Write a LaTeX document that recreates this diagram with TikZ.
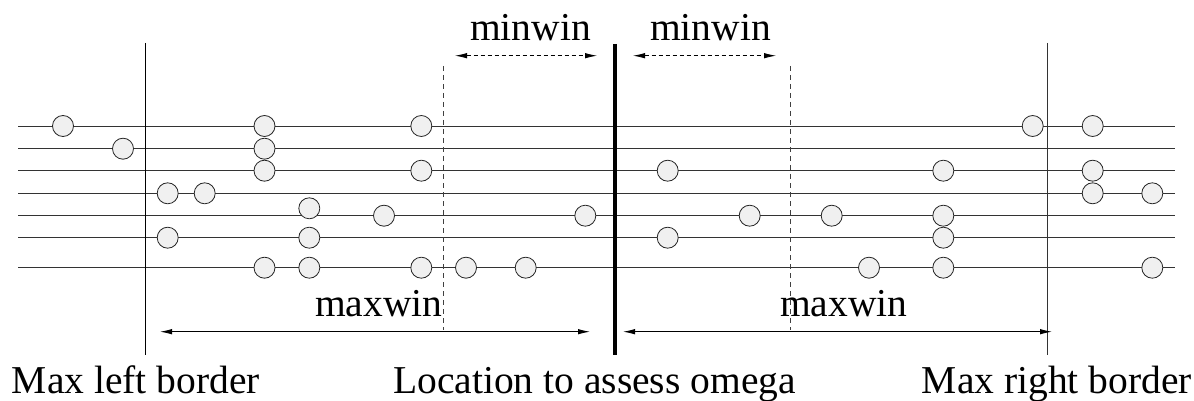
\documentclass[tikz,border=0pt]{standalone}
\usepackage{fontspec}
\setmainfont{Liberation Serif}
\usetikzlibrary{arrows.meta}
\begin{document}
\begin{tikzpicture}[x=1pt,y=-1pt,
  dot/.style={circle,draw=black!85,fill=black!6,line width=0.8pt,minimum size=21pt,inner sep=0pt},
  hline/.style={draw=black!80,line width=0.9pt},
  vborder/.style={draw=black,line width=1pt},
  vcenter/.style={draw=black,line width=4pt},
  vdash/.style={draw=black!75,line width=0.8pt,dash pattern=on 5pt off 4pt},
  minarr/.style={draw=black,line width=0.8pt,dash pattern=on 4pt off 3pt,{Latex[length=12pt,width=5.5pt]}-{Latex[length=12pt,width=5.5pt]}},
  maxarr/.style={draw=black,line width=0.9pt,{Latex[length=12pt,width=5.5pt]}-{Latex[length=12pt,width=5.5pt]}},
  lbl/.style={font=\fontsize{39.5}{47}\selectfont,inner sep=0pt,anchor=base west}
]
\useasboundingbox (0,0) rectangle (1194,401);
% horizontal lines
\foreach \yy [count=\i] in {126,148.7,170.7,193.3,215.7,237.7,267.7}{
  \coordinate (l\i) at (18,\yy);
  \coordinate (r\i) at (1175,\yy);
  \draw[hline] (l\i) -- (r\i);
}
% vertical lines
\coordinate (lbt) at (145.5,43); \coordinate (lbb) at (145.5,355);
\coordinate (rbt) at (1047.7,43); \coordinate (rbb) at (1047.7,355);
\coordinate (ct) at (615,44); \coordinate (cb) at (615,355);
\coordinate (d1t) at (443.7,66); \coordinate (d1b) at (443.7,330);
\coordinate (d2t) at (790.7,66); \coordinate (d2b) at (790.7,330);
\draw[vborder] (lbt) -- (lbb);
\draw[vborder,draw=black!80] (rbt) -- (rbb);
\draw[vcenter] (ct) -- (cb);
\draw[vdash] (d1t) -- (d1b);
\draw[vdash] (d2t) -- (d2b);
% circles
\node[dot] (a1) at (63,126) {};
\node[dot] (a2) at (264.5,126) {};
\node[dot] (a3) at (421.3,126) {};
\node[dot] (a4) at (1032.7,126) {};
\node[dot] (a5) at (1092.7,126) {};
\node[dot] (b1) at (123,148.7) {};
\node[dot] (b2) at (264.5,148.7) {};
\node[dot] (c1) at (264.5,170.7) {};
\node[dot] (c2) at (421.3,170.7) {};
\node[dot] (c3) at (667.7,170.7) {};
\node[dot] (c4) at (943.3,170.7) {};
\node[dot] (c5) at (1092.7,170.7) {};
\node[dot] (d1) at (167.7,193.3) {};
\node[dot] (d2) at (204.7,193.3) {};
\node[dot] (d3) at (1092.7,193.3) {};
\node[dot] (d4) at (1152.3,193.3) {};
\node[dot] (e1) at (309.3,208.3) {};
\node[dot] (e2) at (384,215.7) {};
\node[dot] (e3) at (585.3,215.7) {};
\node[dot] (e4) at (749.7,215.7) {};
\node[dot] (e5) at (831.7,215.7) {};
\node[dot] (e6) at (943.3,215.7) {};
\node[dot] (f1) at (167.7,237.7) {};
\node[dot] (f2) at (309.3,237.7) {};
\node[dot] (f3) at (667.7,237.7) {};
\node[dot] (f4) at (943.3,237.7) {};
\node[dot] (g1) at (264.5,267.7) {};
\node[dot] (g2) at (309.3,267.7) {};
\node[dot] (g3) at (421.3,267.7) {};
\node[dot] (g4) at (466,267.7) {};
\node[dot] (g5) at (525.7,267.7) {};
\node[dot] (g6) at (869,267.7) {};
\node[dot] (g7) at (943.3,267.7) {};
\node[dot] (g8) at (1152.3,267.7) {};
% minwin arrows
\coordinate (m1a) at (455,55.7); \coordinate (m1b) at (597,55.7);
\coordinate (m2a) at (633,55.7); \coordinate (m2b) at (776,55.7);
\draw[minarr] (m1a) -- (m1b);
\draw[minarr] (m2a) -- (m2b);
% maxwin arrows
\coordinate (x1a) at (160,331.7); \coordinate (x1b) at (590,331.7);
\coordinate (x2a) at (623,331.7); \coordinate (x2b) at (1052,331.7);
\draw[maxarr] (x1a) -- (x1b);
\draw[maxarr] (x2a) -- (x2b);
% labels
\node[lbl] (t1) at (470,40.7) {minwin};
\node[lbl] (t2) at (650,40.7) {minwin};
\node[lbl] (t3) at (315,316.7) {maxwin};
\node[lbl] (t4) at (780,316.7) {maxwin};
\node[lbl] (b1l) at (11.7,393) {Max left border};
\node[lbl] (b2l) at (393,393) {Location to assess omega};
\node[lbl] (b3l) at (921.7,393) {Max right border};
\end{tikzpicture}
\end{document}
